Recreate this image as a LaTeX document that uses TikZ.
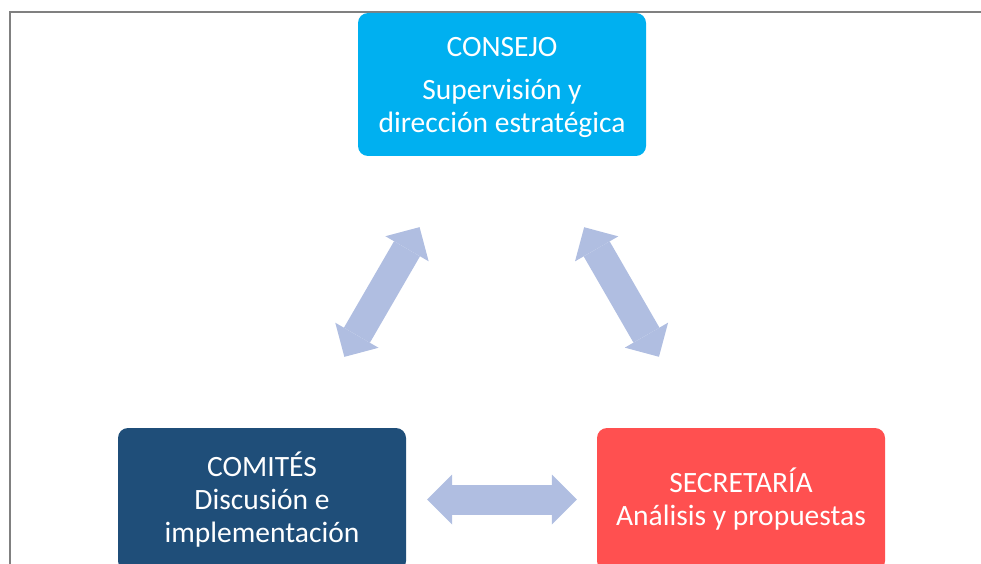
\documentclass[tikz,border=0pt]{standalone}
\usepackage{fontspec}
\setmainfont{Carlito}
\usetikzlibrary{arrows.meta}
\definecolor{consejoblue}{RGB}{0,176,240}
\definecolor{comitesblue}{RGB}{31,78,121}
\definecolor{secretred}{RGB}{255,80,80}
\definecolor{linkblue}{RGB}{176,190,225}
\definecolor{framegray}{RGB}{128,128,128}

\begin{document}
\begin{tikzpicture}[x=1pt,y=1pt,
    box/.style={rounded corners=10pt,minimum width=288pt,minimum height=143pt,
        inner sep=0pt,text=white,align=center,font=\fontsize{29.5}{33}\selectfont},
    link/.style={draw=linkblue,line width=30pt,{Triangle[length=25pt,width=50pt,line width=0pt]}-{Triangle[length=25pt,width=50pt,line width=0pt]}}]
        \clip (0,0) rectangle (981,-564);
        % page frame
        \draw[framegray,line width=2pt] (10,-600) -- (10,-12) -- (1000,-12);
        % the three bodies
        \node[box,fill=consejoblue] (consejo) at (502,-84.5)
            {\rule{0pt}{26pt}CONSEJO\\[10pt]Supervisión y\\dirección estratégica};
        \node[box,fill=comitesblue] (comites) at (262,-499.5)
            {\rule{0pt}{23pt}COMITÉS\\Discusión e\\implementación};
        \node[box,fill=secretred] (secretaria) at (741,-499.5)
            {SECRETARÍA\\Análisis y propuestas};
        % double arrows between them
        \draw[link,shorten <=82pt,shorten >=82pt] (consejo) -- (comites);
        \draw[link,shorten <=82pt,shorten >=82pt] (consejo) -- (secretaria);
        \draw[link,shorten <=21pt,shorten >=20pt] (comites) -- (secretaria);
\end{tikzpicture}
\end{document}
